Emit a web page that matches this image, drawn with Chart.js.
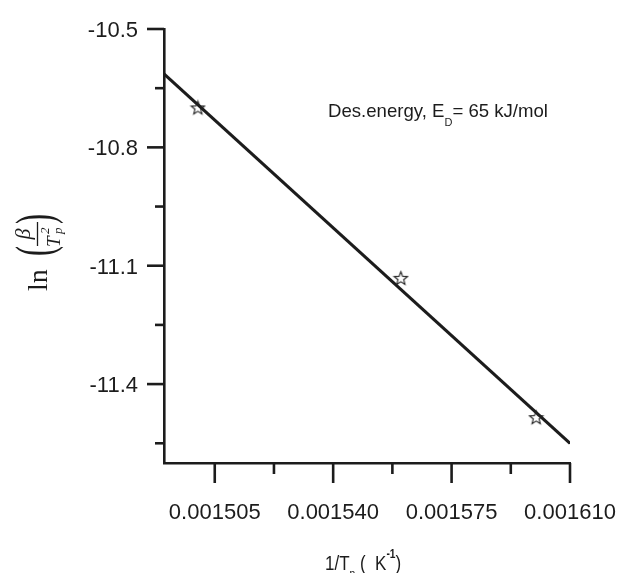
<!DOCTYPE html>
<html><head><meta charset="utf-8">
<script src="https://cdn.jsdelivr.net/npm/chart.js@4/dist/chart.umd.min.js"></script>
<style>html,body{margin:0;padding:0;background:#fff;} #wrap{width:621px;height:573px;position:relative;}</style>
</head><body><div id="wrap"><canvas id="c" width="621" height="573"></canvas></div>
<script>
// ---- data ----
const invT = [0.0015, 0.00156, 0.0016];
const lnBeta = [-10.70, -11.132, -11.485];
const fitX = [0.00149, 0.00161];
const fitY = [-10.614, -11.55];
const xMajorTicks = [0.001505, 0.00154, 0.001575, 0.00161];
const xTickLabels = ['0.001505', '0.001540', '0.001575', '0.001610'];
const xMinorTicks = [0.0015225, 0.0015575, 0.0015925];
const yMajorTicks = [-10.5, -10.8, -11.1, -11.4];
const yTickLabels = ['-10.5', '-10.8', '-11.1', '-11.4'];
const yMinorTicks = [-10.65, -10.95, -11.25, -11.55];
const annotationParts = ['Des.energy, E', 'D', '= 65 kJ/mol'];
const xTitleParts = ['1/T', 'p', ' (  K', '-1', ')'];

const INK = '#1c1c1c';
const SANS = '"Liberation Sans", Arial, sans-serif';
const SERIF = '"Liberation Serif", "Times New Roman", serif';

const starImg = (() => {
  const c = document.createElement('canvas');
  c.width = 17; c.height = 17;
  const g = c.getContext('2d');
  g.beginPath();
  const cx = 8.5, cy = 8.8, R = 7, r = 3;
  for (let i = 0; i < 10; i++) {
    const a = -Math.PI / 2 + i * Math.PI / 5;
    const rad = i % 2 === 0 ? R : r;
    const px = cx + rad * Math.cos(a), py = cy + rad * Math.sin(a);
    if (i === 0) g.moveTo(px, py); else g.lineTo(px, py);
  }
  g.closePath();
  g.strokeStyle = '#222'; g.lineWidth = 1.1; g.stroke();
  return c;
})();

const decor = {
  id: 'decor',
  afterDraw(chart) {
    const ctx = chart.ctx;
    const xs = chart.scales.x, ys = chart.scales.y;
    const ca = chart.chartArea;
    ctx.save();
    ctx.strokeStyle = INK;
    ctx.fillStyle = INK;
    ctx.lineWidth = 2.6;
    ctx.lineCap = 'butt';
    const tick = (x1, y1, x2, y2) => { ctx.beginPath(); ctx.moveTo(x1, y1); ctx.lineTo(x2, y2); ctx.stroke(); };
    xMajorTicks.forEach(v => { const p = xs.getPixelForValue(v); tick(p, ca.bottom, p, ca.bottom + 20); });
    xMinorTicks.forEach(v => { const p = xs.getPixelForValue(v); tick(p, ca.bottom, p, ca.bottom + 11); });
    yMajorTicks.forEach(v => { const p = ys.getPixelForValue(v); tick(ca.left, p, ca.left - 17, p); });
    yMinorTicks.forEach(v => { const p = ys.getPixelForValue(v); tick(ca.left, p, ca.left - 9, p); });

    // tick labels
    ctx.font = '22px ' + SANS;
    ctx.textBaseline = 'alphabetic';
    ctx.textAlign = 'center';
    xMajorTicks.forEach((v, i) => ctx.fillText(xTickLabels[i], xs.getPixelForValue(v), 519));
    ctx.textAlign = 'right';
    yMajorTicks.forEach((v, i) => ctx.fillText(yTickLabels[i], 138, ys.getPixelForValue(v) + 8));

    // annotation
    ctx.textAlign = 'left';
    let x = 328;
    ctx.font = '18.6px ' + SANS;
    ctx.fillText(annotationParts[0], x, 117);
    x += ctx.measureText(annotationParts[0]).width;
    ctx.font = '11px ' + SANS;
    ctx.fillText(annotationParts[1], x, 126);
    x += ctx.measureText(annotationParts[1]).width;
    ctx.font = '18.6px ' + SANS;
    ctx.fillText(annotationParts[2], x, 117);

    // x-axis title (condensed)
    ctx.save();
    ctx.translate(325, 570);
    ctx.scale(0.85, 1);
    x = 0;
    ctx.font = '20px ' + SANS;
    ctx.fillText(xTitleParts[0], x, 0);
    x += ctx.measureText(xTitleParts[0]).width;
    ctx.font = '12px ' + SANS;
    ctx.fillText(xTitleParts[1], x, 8);
    x += ctx.measureText(xTitleParts[1]).width;
    ctx.font = '20px ' + SANS;
    ctx.fillText(xTitleParts[2], x, 0);
    x += ctx.measureText(xTitleParts[2]).width;
    ctx.font = 'bold 12px ' + SANS;
    ctx.fillText(xTitleParts[3], x, -12);
    x += ctx.measureText(xTitleParts[3]).width;
    ctx.font = '20px ' + SANS;
    ctx.fillText(xTitleParts[4], x, 0);
    ctx.restore();

    // y-axis title, rotated: ln ( beta / T_p^2 )
    ctx.translate(0, 292);
    ctx.rotate(-Math.PI / 2);
    // frame: u along +x (up on screen), v along +y (right on screen)
    ctx.font = '28px ' + SERIF;
    ctx.fillText('ln', 1, 47);
    const paren = (ch, u) => {
      ctx.save();
      ctx.translate(u, 38);
      ctx.scale(1, 1.75);
      ctx.font = '30px ' + SERIF;
      ctx.textBaseline = 'middle';
      ctx.fillText(ch, 0, 0);
      ctx.restore();
    };
    paren('(', 36);
    paren(')', 68);
    ctx.lineWidth = 1.3;
    tick(46, 37.5, 70, 37.5);
    ctx.font = 'italic 22px ' + SERIF;
    ctx.textAlign = 'center';
    ctx.fillText('\u03B2', 58, 30);
    ctx.textAlign = 'left';
    ctx.font = 'italic 19px ' + SERIF;
    ctx.fillText('T', 45, 60);
    ctx.font = 'italic 13px ' + SERIF;
    ctx.fillText('2', 58, 49);
    ctx.fillText('p', 58, 62);
    ctx.restore();
  }
};

new Chart(document.getElementById('c'), {
  type: 'scatter',
  data: {
    datasets: [
      {
        label: 'fit',
        data: fitX.map((v, i) => ({ x: v, y: fitY[i] })),
        showLine: true,
        borderColor: INK,
        borderWidth: 3,
        pointRadius: 0,
        order: 1
      },
      {
        label: 'data',
        data: invT.map((v, i) => ({ x: v, y: lnBeta[i] })),
        showLine: false,
        pointStyle: starImg,
        pointRadius: 8,
        order: 0
      }
    ]
  },
  options: {
    responsive: false,
    animation: false,
    devicePixelRatio: 1,
    layout: { padding: { left: 0, top: 29, right: 51, bottom: 0 } },
    plugins: { legend: { display: false }, tooltip: { enabled: false } },
    scales: {
      x: {
        type: 'linear',
        min: 0.00149,
        max: 0.00161,
        afterBuildTicks: s => { s.ticks = xMajorTicks.map(v => ({ value: v })); },
        afterFit: s => { s.height = 110; },
        ticks: { display: false },
        grid: { display: false },
        border: { display: true, color: INK, width: 2.6 }
      },
      y: {
        type: 'linear',
        min: -11.6,
        max: -10.5,
        afterBuildTicks: s => { s.ticks = yMajorTicks.map(v => ({ value: v })); },
        afterFit: s => { s.width = 164; },
        ticks: { display: false },
        grid: { display: false },
        border: { display: true, color: INK, width: 2.6 }
      }
    }
  },
  plugins: [decor]
});
</script>
</body></html>
